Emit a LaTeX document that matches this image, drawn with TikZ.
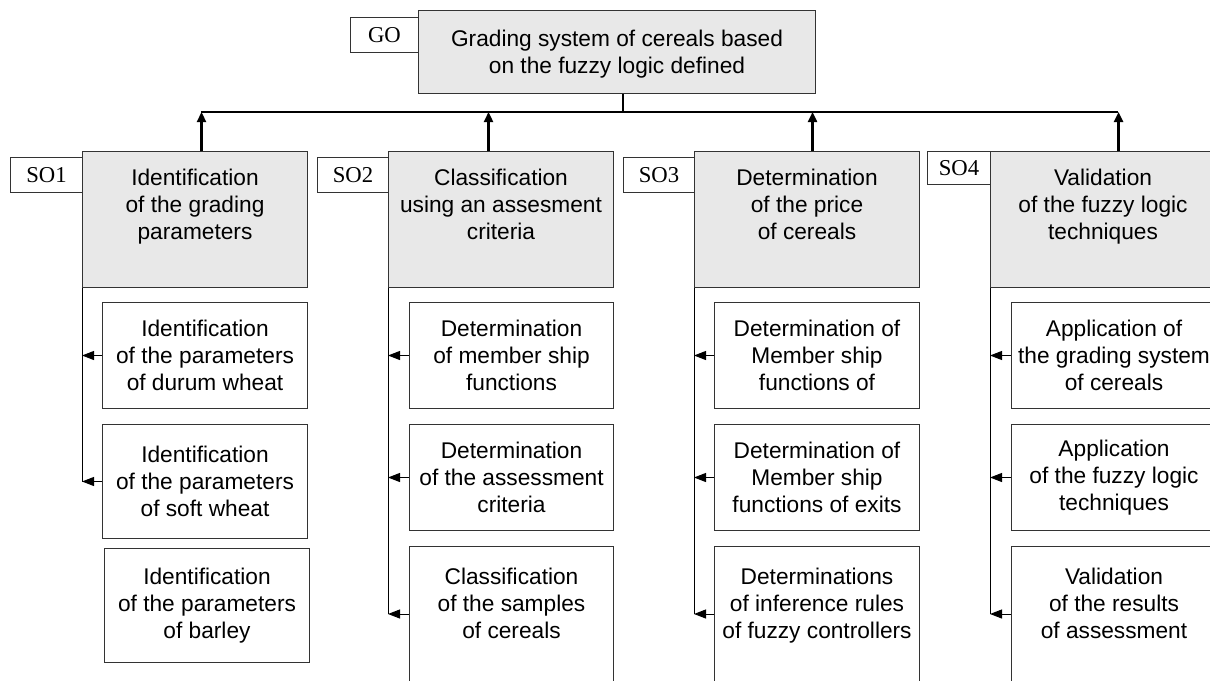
\documentclass[tikz,border=0pt]{standalone}
\usepackage{fontspec}
\setmainfont{Liberation Sans}
\newfontfamily\tagfont{Liberation Serif}
\usetikzlibrary{arrows.meta,calc}
\definecolor{boxgray}{HTML}{E8E8E8}
\definecolor{linegray}{HTML}{333333}
\newcommand{\boxsize}{\fontsize{22.7}{26.7}\selectfont}
\tikzset{
	goalbox/.style={draw=linegray, fill=boxgray, line width=1pt, anchor=north west, inner sep=0pt},
	taskbox/.style={draw=linegray, fill=white, line width=1pt, anchor=north west, inner sep=0pt, align=center, font=\boxsize},
	tagbox/.style={draw=linegray, fill=white, line width=0.9pt, anchor=north west, inner sep=0pt, font=\tagfont\boxsize},
	boxtext/.style={anchor=north, inner sep=0pt, align=center, font=\boxsize},
	uparrow/.style={line width=2.3pt, -{Triangle[length=10pt,width=9pt]}},
	subarrow/.style={line width=1pt, -{Triangle[length=12pt,width=9pt]}},
}

\begin{document}
\begin{tikzpicture}[x=1pt,y=-1pt]
			\useasboundingbox (0,0) rectangle (1210,680);
			\clip (0,0) rectangle (1210,680);

			% general objective
			\node[tagbox, minimum width=68pt, minimum height=35pt] (tgo) at (350,17) {GO};
			\node[goalbox, minimum width=397pt, minimum height=83pt] (go) at (418,10) {};
			\node[boxtext] at ([yshift=-20pt]go.north) {Grading system of cereals based\\on the fuzzy logic defined};

			% specific objectives
			\node[tagbox, minimum width=72pt, minimum height=35pt] (tso1) at (10,157) {SO1};
			\node[goalbox, minimum width=225pt, minimum height=136pt] (so1) at (82,151) {};
			\node[boxtext] at ([yshift=-18pt]so1.north) {Identification\\of the grading\\parameters};

			\node[tagbox, minimum width=71pt, minimum height=35pt] (tso2) at (317,157) {SO2};
			\node[goalbox, minimum width=225pt, minimum height=136pt] (so2) at (388,151) {};
			\node[boxtext] at ([yshift=-18pt]so2.north) {Classification\\using an assesment\\criteria};

			\node[tagbox, minimum width=71pt, minimum height=35pt] (tso3) at (623,157) {SO3};
			\node[goalbox, minimum width=225pt, minimum height=136pt] (so3) at (694,151) {};
			\node[boxtext] at ([yshift=-18pt]so3.north) {Determination\\of the price\\of cereals};

			\node[tagbox, minimum width=63pt, minimum height=33pt] (tso4) at (927,151) {SO4};
			\node[goalbox, minimum width=225pt, minimum height=136pt] (so4) at (990,151) {};
			\node[boxtext] at ([yshift=-18pt]so4.north) {Validation\\of the fuzzy logic\\techniques};

			% tasks of SO1
			\node[taskbox, minimum width=205pt, minimum height=106pt] (t11) at (102,302) {Identification\\of the parameters\\of durum wheat};
			\node[taskbox, minimum width=205pt, minimum height=114pt] (t12) at (102,424) {Identification\\of the parameters\\of soft wheat};
			\node[taskbox, minimum width=205pt, minimum height=114pt] (t13) at (104,548) {Identification\\of the parameters\\of barley};

			% tasks of SO2
			\node[taskbox, minimum width=204pt, minimum height=106pt] (t21) at (409,302) {Determination\\of member ship\\functions};
			\node[taskbox, minimum width=204pt, minimum height=106pt] (t22) at (409,424) {Determination\\of the assessment\\criteria};
			\node[taskbox, minimum width=204pt, minimum height=160pt] (t23) at (409,546) {};
			\node[boxtext] at ([yshift=-22pt]t23.north) {Classification\\of the samples\\of cereals};

			% tasks of SO3
			\node[taskbox, minimum width=205pt, minimum height=106pt] (t31) at (714,302) {Determination of\\Member ship\\functions of};
			\node[taskbox, minimum width=205pt, minimum height=106pt] (t32) at (714,424) {Determination of\\Member ship\\functions of exits};
			\node[taskbox, minimum width=205pt, minimum height=160pt] (t33) at (714,546) {};
			\node[boxtext] at ([yshift=-22pt]t33.north) {Determinations\\of inference rules\\of fuzzy controllers};

			% tasks of SO4
			\node[taskbox, minimum width=205pt, minimum height=106pt] (t41) at (1011,302) {Application of\\the grading system\\of cereals};
			\node[taskbox, minimum width=205pt, minimum height=106pt] (t42) at (1011,424) {Application\\of the fuzzy logic\\techniques};
			\node[taskbox, minimum width=205pt, minimum height=160pt] (t43) at (1011,546) {};
			\node[boxtext] at ([yshift=-22pt]t43.north) {Validation\\of the results\\of assessment};

			% bus to the general objective
			\coordinate (busL) at (201,112);
			\coordinate (busR) at (1118,112);
			\draw[line width=1.4pt] (busL) -- (busR);
			\draw[line width=1.6pt] ([xshift=6pt]go.south) -- ([xshift=6pt]go.south |- busL);
			\foreach \n/\dx in {so1/6.5, so2/-12.5, so3/5.5, so4/15.5}
				\draw[uparrow] ([xshift=\dx pt]\n.north) -- ([xshift=\dx pt]\n.north |- busL);

			% tasks feed back to their objective
			\draw[line width=1pt] (so1.south west) -- (so1.south west |- t12.west);
			\draw[subarrow] (t11.west) -- (t11.west -| so1.west);
			\draw[subarrow] (t12.west) -- (t12.west -| so1.west);
			\foreach \s in {2,3,4}{
				\coordinate (e\s) at ($(t\s3.north west)+(0,68)$);
				\draw[line width=1pt] (so\s.south west) -- (so\s.south west |- e\s);
				\draw[subarrow] (t\s1.west) -- (t\s1.west -| so\s.west);
				\draw[subarrow] (t\s2.west) -- (t\s2.west -| so\s.west);
				\draw[subarrow] (e\s) -- (e\s -| so\s.west);
			}
\end{tikzpicture}
\end{document}
